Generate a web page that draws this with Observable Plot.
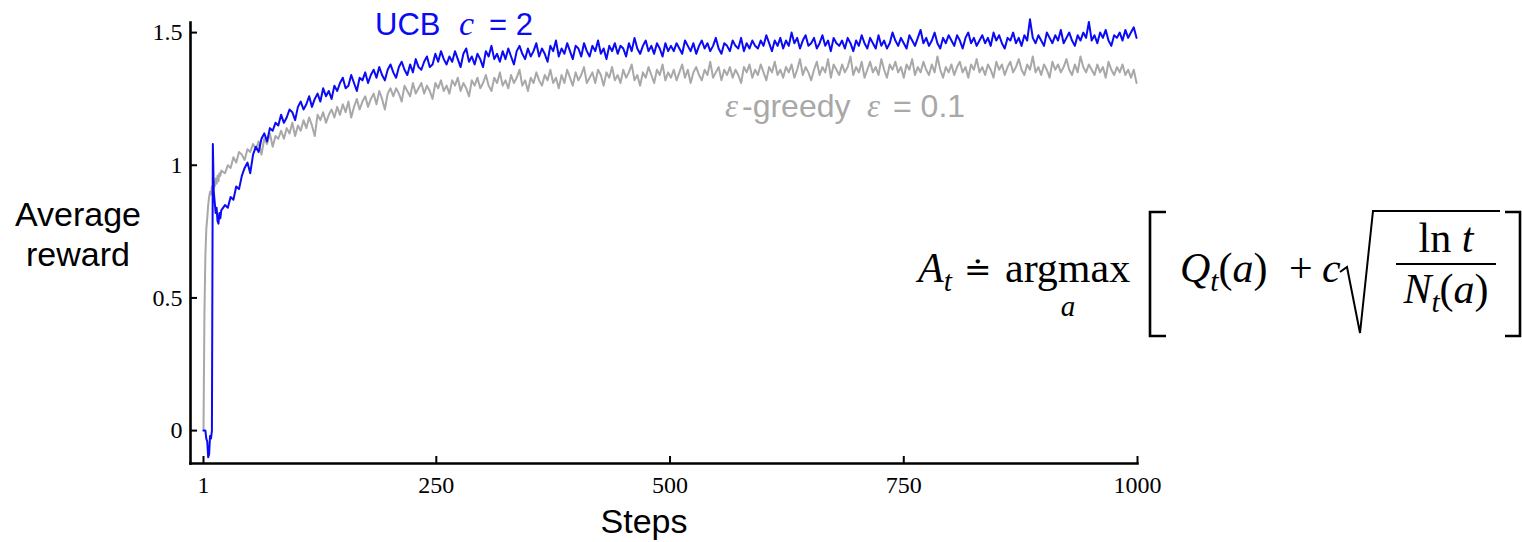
<!DOCTYPE html>
<html>
<head>
<meta charset="utf-8">
<script src="https://cdn.jsdelivr.net/npm/d3@7"></script>
<script src="https://cdn.jsdelivr.net/npm/@observablehq/plot@0.6"></script>
<style>
  html, body { margin: 0; padding: 0; background: #ffffff; }
  #chart { width: 1522px; height: 542px; }
</style>
</head>
<body>
<div id="chart"></div>
<script>
// ---------- data ----------
const earlySteps = d3.range(1, 21);          // steps 1..20
const laterSteps = d3.range(24, 1000, 3);    // steps 24..999 (every 3rd step)
const steps = [...earlySteps, ...laterSteps];

const ucbEarly = [0.00, 0.00, 0.00, -0.03, -0.04, -0.10, -0.09, -0.02, -0.03, 0.00,
                  1.08, 0.90, 0.86, 0.82, 0.84, 0.79, 0.78, 0.82, 0.80, 0.83];
const ucbLater = [
  0.85, 0.84, 0.88, 0.87, 0.92, 0.91, 0.96, 0.99, 1.01, 0.97,
  1.04, 1.07, 1.05, 1.10, 1.12, 1.09, 1.14, 1.13, 1.16, 1.15,
  1.19, 1.16, 1.18, 1.21, 1.20, 1.17, 1.22, 1.24, 1.21, 1.23,
  1.26, 1.22, 1.25, 1.27, 1.24, 1.29, 1.26, 1.28, 1.25, 1.30,
  1.28, 1.31, 1.33, 1.29, 1.30, 1.34, 1.31, 1.28, 1.33, 1.32,
  1.35, 1.31, 1.34, 1.36, 1.33, 1.37, 1.34, 1.32, 1.36, 1.38,
  1.35, 1.33, 1.37, 1.39, 1.36, 1.34, 1.38, 1.35, 1.40, 1.37,
  1.36, 1.39, 1.41, 1.37, 1.38, 1.42, 1.39, 1.43, 1.40, 1.38,
  1.41, 1.39, 1.43, 1.40, 1.37, 1.42, 1.44, 1.39, 1.41, 1.38,
  1.42, 1.40, 1.37, 1.43, 1.41, 1.45, 1.40, 1.42, 1.39, 1.43,
  1.40, 1.44, 1.41, 1.38, 1.43, 1.45, 1.42, 1.40, 1.44, 1.41,
  1.43, 1.46, 1.41, 1.44, 1.42, 1.39, 1.45, 1.43, 1.47, 1.41,
  1.44, 1.42, 1.46, 1.43, 1.40, 1.45, 1.44, 1.41, 1.46, 1.43,
  1.41, 1.45, 1.43, 1.47, 1.42, 1.44, 1.40, 1.45, 1.43, 1.46,
  1.42, 1.45, 1.44, 1.41, 1.46, 1.43, 1.48, 1.44, 1.42, 1.45,
  1.47, 1.43, 1.45, 1.42, 1.46, 1.44, 1.41, 1.46, 1.43, 1.45,
  1.43, 1.46, 1.44, 1.42, 1.47, 1.45, 1.43, 1.46, 1.42, 1.45,
  1.47, 1.44, 1.46, 1.43, 1.45, 1.48, 1.44, 1.42, 1.46, 1.45,
  1.43, 1.47, 1.45, 1.44, 1.48, 1.43, 1.46, 1.44, 1.47, 1.45,
  1.44, 1.47, 1.45, 1.49, 1.46, 1.43, 1.47, 1.45, 1.48, 1.44,
  1.47, 1.45, 1.50, 1.46, 1.48, 1.44, 1.47, 1.49, 1.45, 1.46,
  1.48, 1.44, 1.46, 1.49, 1.45, 1.47, 1.43, 1.48, 1.46, 1.45,
  1.47, 1.44, 1.48, 1.46, 1.43, 1.47, 1.45, 1.49, 1.46, 1.44,
  1.48, 1.46, 1.44, 1.49, 1.45, 1.47, 1.44, 1.46, 1.50, 1.47,
  1.45, 1.48, 1.46, 1.44, 1.49, 1.47, 1.45, 1.48, 1.51, 1.46,
  1.48, 1.45, 1.47, 1.50, 1.46, 1.44, 1.48, 1.46, 1.49, 1.47,
  1.45, 1.49, 1.47, 1.44, 1.48, 1.50, 1.46, 1.48, 1.45, 1.47,
  1.49, 1.46, 1.48, 1.45, 1.50, 1.47, 1.49, 1.46, 1.44, 1.48,
  1.47, 1.50, 1.46, 1.48, 1.45, 1.49, 1.47, 1.55, 1.48, 1.46,
  1.49, 1.47, 1.45, 1.50, 1.48, 1.46, 1.49, 1.47, 1.51, 1.46,
  1.48, 1.50, 1.47, 1.45, 1.49, 1.47, 1.50, 1.48, 1.54, 1.47,
  1.49, 1.46, 1.50, 1.48, 1.51, 1.47, 1.45, 1.49, 1.48, 1.50,
  1.47, 1.51, 1.48, 1.50, 1.52, 1.48
];

const greedyEarly = [0.00, 0.44, 0.66, 0.76, 0.80, 0.85, 0.88, 0.90, 0.89, 0.92,
                     0.91, 0.94, 0.92, 0.95, 0.93, 0.96, 0.94, 0.97, 0.96, 0.98];
const greedyLater = [
  0.97, 1.00, 0.99, 1.03, 1.01, 1.05, 1.04, 1.02, 1.06, 1.05,
  1.08, 1.06, 1.09, 1.04, 1.10, 1.08, 1.12, 1.07, 1.11, 1.10,
  1.13, 1.10, 1.14, 1.12, 1.16, 1.11, 1.15, 1.13, 1.17, 1.14,
  1.18, 1.15, 1.11, 1.19, 1.17, 1.20, 1.16, 1.19, 1.21, 1.18,
  1.22, 1.19, 1.23, 1.20, 1.24, 1.18, 1.22, 1.25, 1.21, 1.24,
  1.26, 1.22, 1.25, 1.27, 1.23, 1.28, 1.25, 1.21, 1.27, 1.29,
  1.26, 1.29, 1.27, 1.24, 1.30, 1.28, 1.26, 1.31, 1.27, 1.29,
  1.31, 1.27, 1.30, 1.28, 1.25, 1.31, 1.29, 1.32, 1.28, 1.30,
  1.27, 1.32, 1.30, 1.33, 1.28, 1.31, 1.29, 1.26, 1.32, 1.30,
  1.33, 1.29, 1.31, 1.34, 1.30, 1.28, 1.33, 1.31, 1.35, 1.30,
  1.32, 1.29, 1.34, 1.31, 1.33, 1.36, 1.30, 1.32, 1.28, 1.33,
  1.31, 1.35, 1.32, 1.30, 1.34, 1.32, 1.36, 1.31, 1.33, 1.29,
  1.34, 1.31, 1.36, 1.33, 1.30, 1.35, 1.32, 1.34, 1.37, 1.31,
  1.33, 1.35, 1.31, 1.36, 1.34, 1.30, 1.35, 1.33, 1.37, 1.32,
  1.34, 1.31, 1.36, 1.33, 1.35, 1.38, 1.32, 1.34, 1.30, 1.35,
  1.33, 1.37, 1.34, 1.31, 1.36, 1.34, 1.38, 1.32, 1.35, 1.33,
  1.36, 1.32, 1.35, 1.38, 1.33, 1.36, 1.31, 1.35, 1.37, 1.34,
  1.32, 1.36, 1.34, 1.39, 1.33, 1.35, 1.37, 1.32, 1.36, 1.34,
  1.37, 1.33, 1.36, 1.34, 1.31, 1.37, 1.35, 1.38, 1.33, 1.36,
  1.34, 1.38, 1.35, 1.32, 1.37, 1.35, 1.39, 1.34, 1.36, 1.33,
  1.37, 1.35, 1.38, 1.33, 1.36, 1.40, 1.34, 1.37, 1.35, 1.32,
  1.36, 1.39, 1.34, 1.37, 1.35, 1.40, 1.33, 1.38, 1.36, 1.34,
  1.38, 1.35, 1.37, 1.41, 1.34, 1.37, 1.35, 1.39, 1.33, 1.36,
  1.39, 1.35, 1.37, 1.34, 1.40, 1.36, 1.33, 1.38, 1.36, 1.39,
  1.35, 1.37, 1.33, 1.38, 1.36, 1.40, 1.34, 1.37, 1.35, 1.39,
  1.36, 1.34, 1.38, 1.35, 1.41, 1.36, 1.33, 1.37, 1.35, 1.38,
  1.34, 1.37, 1.39, 1.35, 1.37, 1.33, 1.38, 1.36, 1.40, 1.35,
  1.37, 1.34, 1.38, 1.36, 1.33, 1.39, 1.36, 1.38, 1.34, 1.37,
  1.39, 1.35, 1.37, 1.40, 1.36, 1.34, 1.38, 1.36, 1.41, 1.35,
  1.37, 1.34, 1.38, 1.36, 1.33, 1.39, 1.36, 1.38, 1.35, 1.37,
  1.40, 1.36, 1.34, 1.38, 1.35, 1.41, 1.37, 1.35, 1.38, 1.36,
  1.34, 1.38, 1.35, 1.37, 1.33, 1.39, 1.36, 1.34, 1.37, 1.35,
  1.38, 1.34, 1.36, 1.33, 1.36, 1.31
];

const ucbValues = [...ucbEarly, ...ucbLater];
const greedyValues = [...greedyEarly, ...greedyLater];

const xTicks = [1, 250, 500, 750, 1000];
const yTicks = [0, 0.5, 1, 1.5];
const xDomain = [1, 1000];
const yDomain = [-0.124, 1.538];

const ucbColor = "#0a0af5";
const greedyColor = "#a8a8a8";
const serif = "'Liberation Serif', 'DejaVu Serif', serif";
const sans = "'Liberation Sans', Arial, sans-serif";

const ucbRows = steps.map((s, i) => ({step: s, value: ucbValues[i]}));
const greedyRows = steps.map((s, i) => ({step: s, value: greedyValues[i]}));

// ---------- helper for rich text ----------
function rich(g, x, y, parts, opts) {
  const size = opts.size;
  const t = g.append("text")
    .attr("x", x).attr("y", y)
    .attr("font-family", opts.family || serif)
    .attr("font-size", size)
    .attr("fill", opts.fill || "black")
    .attr("text-anchor", opts.anchor || "start")
    .style("white-space", "pre");
  let sub = false;
  for (const p of parts) {
    const ts = t.append("tspan").text(p.t);
    if (p.i) ts.attr("font-style", "italic");
    if (p.f) ts.attr("font-family", p.f);
    const wantSub = !!p.s;
    if (wantSub) ts.attr("font-size", size * 0.7);
    if (wantSub && !sub) ts.attr("dy", size * 0.22);
    else if (!wantSub && sub) ts.attr("dy", -size * 0.22);
    sub = wantSub;
  }
  return t;
}

function label(g, x, y, text, opts) {
  const t = g.append("text").attr("x", x).attr("y", y)
    .attr("text-anchor", opts.anchor || "start")
    .attr("font-family", opts.family || sans)
    .attr("font-size", opts.size)
    .attr("fill", opts.fill || "black")
    .style("white-space", "pre")
    .text(text);
  if (opts.italic) t.attr("font-style", "italic");
  return t;
}

function decorations() {
  const g = d3.create("svg:g").attr("text-anchor", "start");
  // axis titles
  label(g, 78, 226, "Average", {size: 34, anchor: "middle"});
  label(g, 78, 266, "reward", {size: 34, anchor: "middle"});
  label(g, 644, 533, "Steps", {size: 34, anchor: "middle"});

  // series labels
  label(g, 375, 35, "UCB", {size: 31, fill: ucbColor});
  label(g, 459, 35, "c", {size: 34, fill: ucbColor, family: serif, italic: true});
  label(g, 489, 35, "= 2", {size: 31, fill: ucbColor});

  label(g, 725, 117, "ε", {size: 33, fill: greedyColor, family: serif, italic: true});
  label(g, 742, 117, "-greedy", {size: 32, fill: greedyColor});
  label(g, 867, 117, "ε", {size: 33, fill: greedyColor, family: serif, italic: true});
  label(g, 893, 117, "= 0.1", {size: 32, fill: greedyColor});

  // formula  A_t ≐ argmax_a [ Q_t(a) + c sqrt( ln t / N_t(a) ) ]
  const fs = 42;
  rich(g, 918, 282, [{t: "A", i: 1}, {t: "t", i: 1, s: 1}], {size: fs});
  rich(g, 964, 281, [{t: "≐"}], {size: 33});
  rich(g, 1005, 282, [{t: "argmax"}], {size: fs});
  rich(g, 1068, 316, [{t: "a", i: 1}], {size: 29, anchor: "middle"});
  g.append("path").attr("d", "M1166,212H1150V336H1166").attr("fill", "none")
    .attr("stroke", "black").attr("stroke-width", 2.6);
  rich(g, 1180, 282, [{t: "Q", i: 1}, {t: "t", i: 1, s: 1}, {t: "("}, {t: "a", i: 1}, {t: ")"}], {size: fs});
  rich(g, 1289, 282, [{t: "+"}], {size: fs});
  rich(g, 1322, 282, [{t: "c", i: 1}], {size: fs});
  g.append("path").attr("d", "M1340,272L1347,267L1360,333L1373,211H1500").attr("fill", "none")
    .attr("stroke", "black").attr("stroke-width", 2).attr("stroke-linejoin", "miter");
  rich(g, 1446, 252, [{t: "ln "}, {t: "t", i: 1}], {size: fs, anchor: "middle"});
  g.append("path").attr("d", "M1396,264H1496").attr("stroke", "black").attr("stroke-width", 1.8);
  rich(g, 1446, 303, [{t: "N", i: 1}, {t: "t", i: 1, s: 1}, {t: "("}, {t: "a", i: 1}, {t: ")"}], {size: fs, anchor: "middle"});
  g.append("path").attr("d", "M1505,212H1520V336H1505").attr("fill", "none")
    .attr("stroke", "black").attr("stroke-width", 2.6);
  return g.node();
}

// ---------- chart ----------
const chart = Plot.plot({
  width: 1522,
  height: 542,
  marginLeft: 190,
  marginRight: 385,
  marginTop: 22,
  marginBottom: 79,
  style: {background: "#ffffff", color: "black", fontFamily: serif, overflow: "visible"},
  x: {domain: xDomain, insetLeft: 13},
  y: {domain: yDomain},
  marks: [
    Plot.lineY(greedyRows, {x: "step", y: "value", stroke: greedyColor, strokeWidth: 2}),
    Plot.lineY(ucbRows, {x: "step", y: "value", stroke: ucbColor, strokeWidth: 2}),
    Plot.frame({anchor: "left", stroke: "black", strokeWidth: 2.6}),
    Plot.frame({anchor: "bottom", stroke: "black", strokeWidth: 2.6}),
    Plot.axisX({ticks: xTicks, tickSize: -7, tickPadding: 19, tickFormat: d => String(d),
      fontSize: 24, fontFamily: serif, strokeWidth: 2, label: null}),
    Plot.axisY({ticks: yTicks, tickSize: -7, tickPadding: 15, tickFormat: d => String(d),
      fontSize: 24, fontFamily: serif, strokeWidth: 2, label: null}),
    decorations
  ]
});
document.getElementById("chart").appendChild(chart);
</script>
</body>
</html>
